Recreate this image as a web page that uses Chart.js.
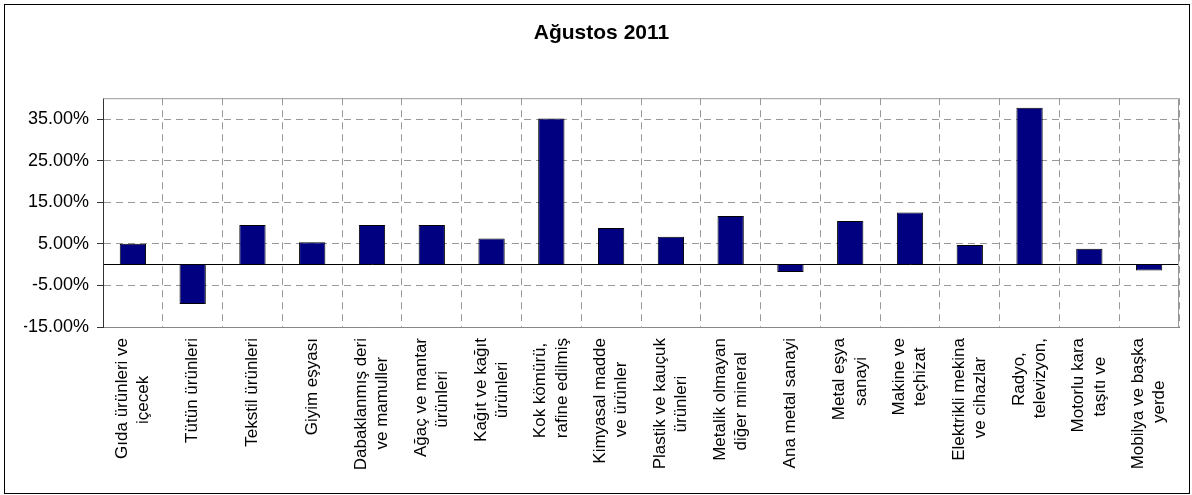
<!DOCTYPE html>
<html>
<head>
<meta charset="utf-8">
<script src="https://cdn.jsdelivr.net/npm/chart.js@4/dist/chart.umd.min.js"></script>
<style>
body { margin: 0; background: #fff; }
#wrap { position: relative; width: 1192px; height: 495px; }
#frame { position: absolute; left: 4px; top: 4px; width: 1184px; height: 488px; border: 1px solid #000; pointer-events: none; }
canvas { position: absolute; left: 0; top: 0; }
</style>
</head>
<body>
<div id="wrap">
  <canvas id="chart-sanayi" width="1192" height="495"></canvas>
  <div id="frame"></div>
</div>
<script>
// sektör adları (çok satırlı olanlar dizi)
var categories = [
    ["Gıda ürünleri ve", "içecek"],
    "Tütün ürünleri",
    "Tekstil ürünleri",
    "Giyim eşyası",
    ["Dabaklanmış deri", "ve mamuller"],
    ["Ağaç ve mantar", "ürünleri"],
    ["Kağıt ve kağıt", "ürünleri"],
    ["Kok kömürü,", "rafine edilmiş"],
    ["Kimyasal madde", "ve ürünler"],
    ["Plastik ve kauçuk", "ürünleri"],
    ["Metalik olmayan", "diğer mineral"],
    "Ana metal sanayi",
    ["Metal eşya", "sanayi"],
    ["Makine ve", "teçhizat"],
    ["Elektrikli mekina", "ve cihazlar"],
    ["Radyo,", "televizyon,"],
    ["Motorlu kara", "taşıtı ve"],
    ["Mobilya ve başka", "yerde"]
];

// yüzde değişim
var values = [5.0, -9.5, 9.5, 5.4, 9.5, 9.5, 6.3, 35.1, 8.8, 6.7, 11.7, -1.8, 10.5, 12.5, 4.7, 37.7, 3.8, -1.4];

var yTicks = [-15, -5, 5, 15, 25, 35];
var yMin = -15;
var yMax = 40;

var FONT = '"Liberation Sans", Arial, sans-serif';
var X_SIZE = 17;
var X_LH = 1.25;

// ikinci satırı ilk satıra göre ortala (sağa hizalı çizildiği için sona boşluk ekle)
var mctx = document.createElement('canvas').getContext('2d');
mctx.font = X_SIZE + 'px ' + FONT;
function centerLines(label) {
    if (!Array.isArray(label)) return label;
    var w = label.map(function (s) { return mctx.measureText(s).width; });
    var maxW = Math.max.apply(null, w);
    var sp = mctx.measureText(' ').width;
    return label.map(function (s, i) {
        return s + ' '.repeat(Math.round((maxW - w[i]) / 2 / sp));
    });
}
var xLabels = categories.map(centerLines);

var plotFrame = {
    id: 'plotFrame',
    afterDatasetsDraw: function (chart) {
        var a = chart.chartArea, c = chart.ctx;
        c.save();
        c.strokeStyle = '#999';
        c.lineWidth = 1;
        c.beginPath();
        c.moveTo(a.left, a.top + 0.5);
        c.lineTo(a.right - 0.5, a.top + 0.5);
        c.lineTo(a.right - 0.5, a.bottom);
        c.stroke();
        c.restore();
    }
};

var ctxB = document.getElementById('chart-sanayi').getContext('2d');
var myBarChart = new Chart(ctxB, {
    type: 'bar',
    data: {
        labels: xLabels,
        datasets: [{
            label: 'Ağustos 2011',
            data: values,
            backgroundColor: '#000080',
            borderColor: '#000000',
            borderWidth: 1,
            barPercentage: 0.44,
            categoryPercentage: 1.0
        }]
    },
    options: {
        responsive: false,
        animation: false,
        layout: { padding: { left: 24, right: 13, top: 10, bottom: 2 } },
        plugins: {
            legend: { display: false },
            tooltip: { enabled: false },
            title: {
                display: true,
                text: 'Ağustos 2011',
                color: '#000',
                font: { family: FONT, size: 21, weight: 'bold' },
                padding: { top: 11, bottom: 52 }
            }
        },
        scales: {
            x: {
                afterFit: function (s) {
                    s.height = 166;
                    s.paddingLeft = 0;
                    s.paddingRight = 0;
                },
                grid: { offset: true, color: '#999', drawTicks: false },
                border: { color: '#888', dash: [7, 5] },
                ticks: {
                    autoSkip: false,
                    minRotation: 90,
                    maxRotation: 90,
                    color: '#000',
                    font: { family: FONT, size: X_SIZE, lineHeight: X_LH },
                    padding: 11,
                    labelOffset: -X_SIZE * X_LH / 2,
                    showLabelBackdrop: function (ctx) { return !Array.isArray(categories[ctx.index]); },
                    backdropColor: 'rgba(0,0,0,0)',
                    backdropPadding: 0
                }
            },
            y: {
                min: yMin,
                max: yMax,
                afterBuildTicks: function (s) {
                    s.ticks = yTicks.concat([0]).map(function (v) { return { value: v }; });
                },
                afterFit: function (s) { s.width = 79; },
                grid: {
                    color: function (ctx) { return ctx.tick && ctx.tick.value === 0 ? '#000' : '#999'; },
                    tickLength: 6,
                    tickColor: function (ctx) { return ctx.tick && ctx.tick.value === 0 ? 'rgba(0,0,0,0)' : '#333'; }
                },
                border: {
                    color: '#333',
                    dash: function (ctx) { return ctx.tick && ctx.tick.value === 0 ? [] : [7, 5]; }
                },
                ticks: {
                    color: '#000',
                    font: { family: FONT, size: 18 },
                    padding: 8,
                    callback: function (v) { return v === 0 ? '' : v.toFixed(2) + '%'; }
                }
            }
        }
    },
    plugins: [plotFrame]
});
</script>
</body>
</html>
